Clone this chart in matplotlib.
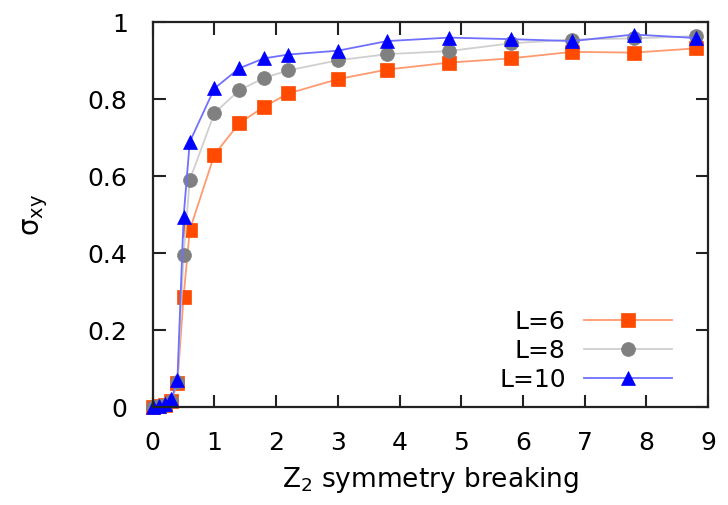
"""Hall conductivity sigma_xy vs Z2 symmetry-breaking strength for three system sizes."""

import matplotlib
matplotlib.use("Agg")
import matplotlib.pyplot as plt
from matplotlib.ticker import FuncFormatter

plt.rcParams["font.family"] = ["DejaVu Sans"]
plt.rcParams["mathtext.fontset"] = "dejavusans"

# symmetry-breaking strength
breaking = [0, 0.1, 0.2, 0.3, 0.4, 0.5, 0.6, 1.0, 1.4, 1.8, 2.2,
            3.0, 3.8, 4.8, 5.8, 6.8, 7.8, 8.8]

sigma_L6 = [0, 0.002, 0.005, 0.015, 0.062, 0.287, 0.46, 0.656, 0.737, 0.780,
            0.815, 0.852, 0.877, 0.895, 0.906, 0.923, 0.921, 0.932]
sigma_L8 = [0, 0.002, 0.006, 0.016, 0.066, 0.395, 0.59, 0.764, 0.823, 0.855,
            0.875, 0.901, 0.917, 0.925, 0.945, 0.955, 0.958, 0.964]
sigma_L10 = [0, 0.003, 0.008, 0.020, 0.070, 0.494, 0.689, 0.828, 0.880, 0.906,
             0.916, 0.926, 0.951, 0.960, 0.956, 0.951, 0.968, 0.959]

labels = ["L=6", "L=8", "L=10"]
x_ticks = [0, 1, 2, 3, 4, 5, 6, 7, 8, 9]
y_ticks = [0, 0.2, 0.4, 0.6, 0.8, 1.0]

fig = plt.figure(figsize=(7.28, 5.05), dpi=100)
ax = fig.add_axes([0.2098, 0.194, 0.7627, 0.762])

styles = [
    # (marker, marker colour, line colour, marker size)
    ("s", "#ff4a00", "#ff9a70", 10),
    ("o", "#808080", "#cfcfcf", 10),
    ("^", "#0000ff", "#7070ff", 10),
]
for ys, lab, (mk, mc, lc, ms) in zip([sigma_L6, sigma_L8, sigma_L10], labels, styles):
    ax.plot(breaking, ys, color=lc, lw=1.3, marker=mk, ms=ms,
            markerfacecolor=mc, markeredgecolor=mc, markeredgewidth=0.5,
            label=lab, clip_on=False)

ax.set_xlim(0, 9)
ax.set_ylim(0, 1)
ax.set_xticks(x_ticks)
ax.set_yticks(y_ticks)
ax.yaxis.set_major_formatter(FuncFormatter(lambda v, _: f"{v:g}"))
ax.tick_params(direction="in", length=9, width=1.5, top=True, right=True,
               labelsize=18, color="#222222")
ax.tick_params(axis="x", pad=17)
ax.tick_params(axis="y", pad=18)
for sp in ax.spines.values():
    sp.set_linewidth(1.6)
    sp.set_color("#222222")

ax.set_xlabel(r"Z$_2$ symmetry breaking", fontsize=19)
ax.xaxis.set_label_coords(0.5, -0.15)
ax.set_ylabel(r"σ$_{\mathrm{xy}}$", fontsize=20)
ax.yaxis.set_label_coords(-0.185, 0.5)

ax.legend(loc="lower right", bbox_to_anchor=(0.935, 0.04), frameon=False,
          markerfirst=False, fontsize=18, handlelength=3.5, handletextpad=0.75,
          labelspacing=0.2, borderpad=0, borderaxespad=0)

fig.savefig("out.png", dpi=100)
